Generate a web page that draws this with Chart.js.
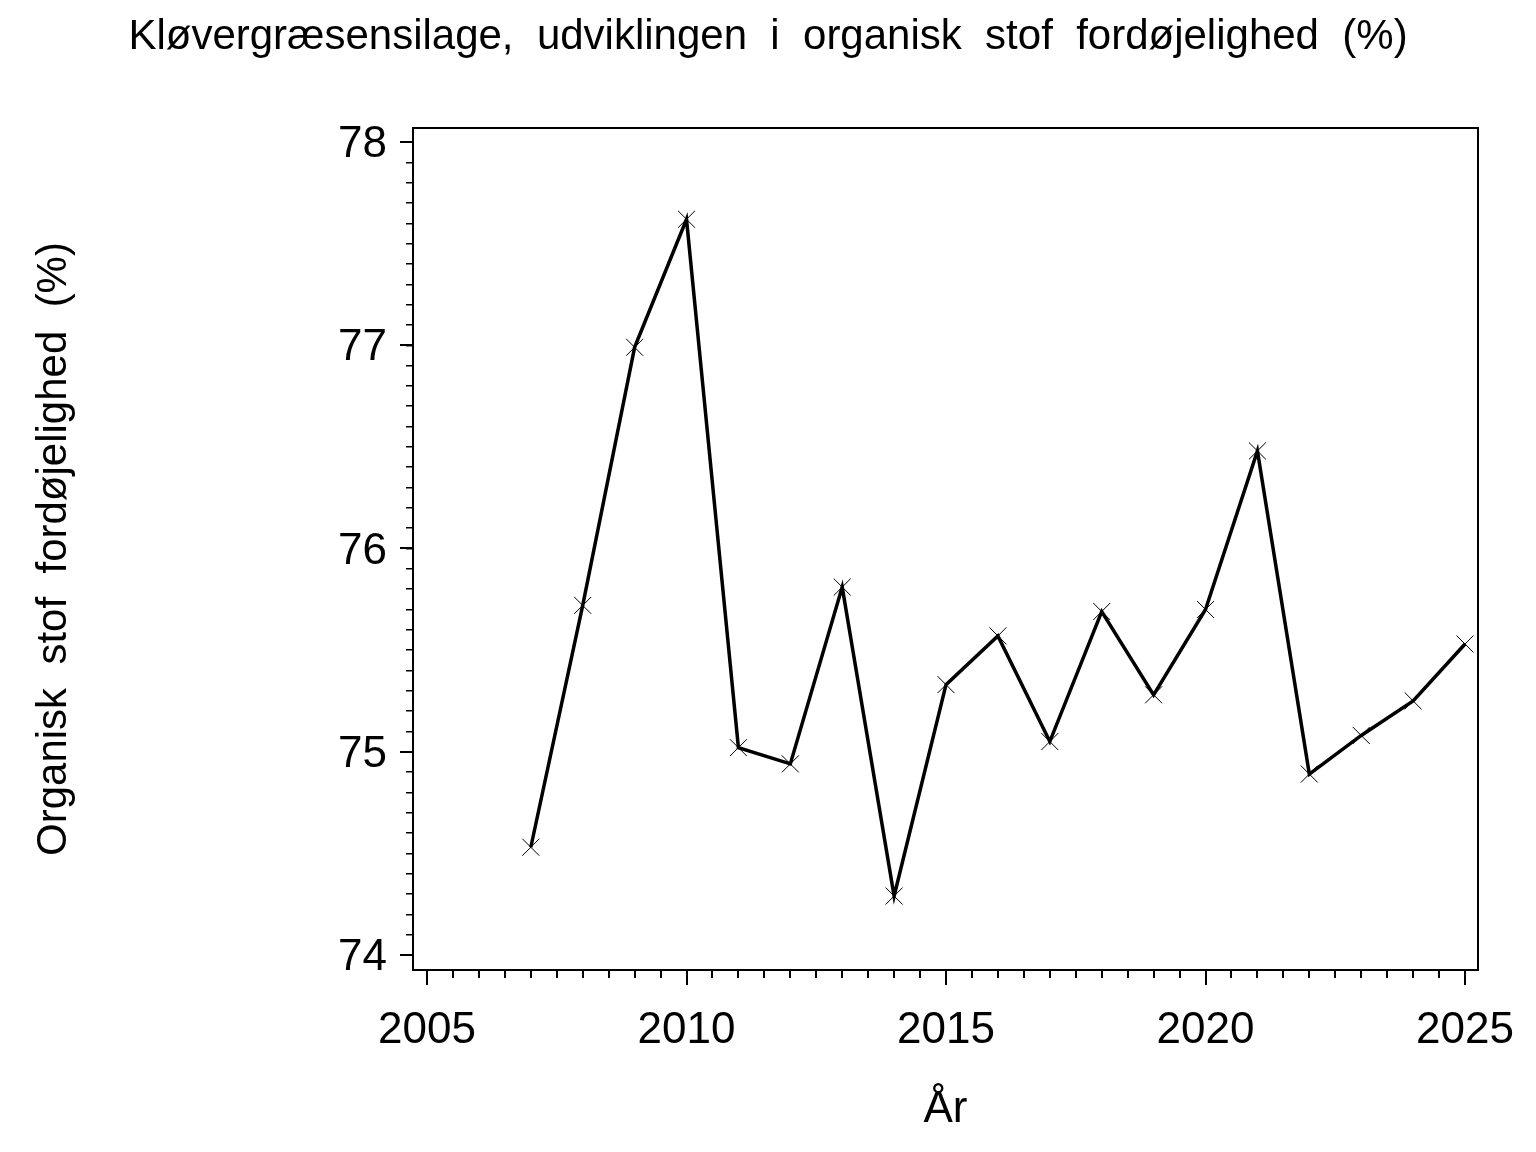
<!DOCTYPE html>
<html>
<head>
<meta charset="utf-8">
<script src="https://cdn.jsdelivr.net/npm/chart.js@4/dist/chart.umd.min.js"></script>
<style>
  html, body { margin: 0; padding: 0; background: #fff; }
  canvas { display: block; }
</style>
</head>
<body>
<canvas id="c" width="1536" height="1152"></canvas>
<script>
// ---- data ----
const years = [2007, 2008, 2009, 2010, 2011, 2012, 2013, 2014, 2015, 2016, 2017, 2018, 2019, 2020, 2021, 2022, 2023, 2024, 2025];
const digestibility = [74.53, 75.72, 76.99, 77.62, 75.02, 74.94, 75.81, 74.29, 75.33, 75.57, 75.05, 75.69, 75.28, 75.70, 76.48, 74.89, 75.08, 75.25, 75.53];
const xMajorTicks = [2005, 2010, 2015, 2020, 2025];
const yMajorTicks = [74, 75, 76, 77, 78];
const titleText = 'Kløvergræsensilage,  udviklingen  i  organisk  stof  fordøjelighed  (%)';
const xTitle = 'År';
const yTitle = 'Organisk  stof  fordøjelighed  (%)';

// minor tick positions (axis decoration only)
const xMinorTicks = [];
for (let v = 2005; v <= 2025.001; v += 0.5) xMinorTicks.push(Math.round(v * 10) / 10);
const yMinorTicks = [];
for (let v = 74; v <= 78.001; v += 0.1) yMinorTicks.push(Math.round(v * 10) / 10);

const FONT = "'Liberation Sans', Arial, sans-serif";
const X_MIN = 2004.73, X_MAX = 2025.25, Y_MIN = 73.926, Y_MAX = 78.069;

const points = years.map((y, i) => ({ x: y, y: digestibility[i] }));

new Chart(document.getElementById('c'), {
  type: 'line',
  data: {
    datasets: [{
      data: points,
      borderColor: '#000',
      backgroundColor: '#000',
      borderWidth: 3.5,
      tension: 0,
      pointStyle: 'crossRot',
      pointRadius: 12,
      pointBorderWidth: 1,
      pointBorderColor: '#000',
      xAxisID: 'x',
      yAxisID: 'y'
    }]
  },
  options: {
    responsive: false,
    animation: false,
    layout: { padding: { left: 58, right: 58, top: 0, bottom: 0 } },
    plugins: {
      legend: { display: false },
      tooltip: { enabled: false },
      title: {
        display: true,
        text: titleText,
        color: '#000',
        font: { family: FONT, size: 42, weight: 'normal', lineHeight: 1.2 },
        padding: { top: 12, bottom: 65.6 }
      }
    },
    scales: {
      x: {
        type: 'linear', position: 'bottom', weight: 1,
        min: X_MIN, max: X_MAX,
        afterBuildTicks: s => { s.ticks = xMajorTicks.map(v => ({ value: v })); },
        afterFit: s => { s.height = 182; },
        grid: { drawOnChartArea: false, tickLength: 15, color: '#000', lineWidth: 2 },
        border: { display: true, color: '#000', width: 2 },
        ticks: { color: '#000', font: { family: FONT, size: 44 }, padding: 19, maxRotation: 0, autoSkip: false,
                 callback: v => String(v) },
        title: { display: true, text: xTitle, color: '#000', font: { family: FONT, size: 44, lineHeight: 1.2 },
                 padding: { top: 0, bottom: 16 } }
      },
      xMinor: {
        type: 'linear', position: 'bottom', weight: 0,
        min: X_MIN, max: X_MAX,
        afterBuildTicks: s => { s.ticks = xMinorTicks.map(v => ({ value: v })); },
        afterFit: s => { s.height = 0; },
        grid: { drawOnChartArea: false, tickLength: 8, color: '#000', lineWidth: 2 },
        border: { display: false },
        ticks: { display: false }
      },
      xTop: {
        type: 'linear', position: 'top',
        min: X_MIN, max: X_MAX,
        afterFit: s => { s.height = 0; },
        grid: { drawOnChartArea: false, drawTicks: false },
        border: { display: true, color: '#000', width: 2 },
        ticks: { display: false }
      },
      y: {
        type: 'linear', position: 'left', weight: 1,
        min: Y_MIN, max: Y_MAX,
        afterBuildTicks: s => { s.ticks = yMajorTicks.map(v => ({ value: v })); },
        afterFit: s => { s.width = 355; },
        grid: { drawOnChartArea: false, tickLength: 13, color: '#000', lineWidth: 2 },
        border: { display: true, color: '#000', width: 2 },
        ticks: { color: '#000', font: { family: FONT, size: 44 }, padding: 13, autoSkip: false, labelOffset: 3,
                 callback: v => String(v) },
        title: { display: true, text: yTitle, color: '#000', font: { family: FONT, size: 42, lineHeight: 1.2 },
                 padding: { top: -29, bottom: 0 } }
      },
      yMinor: {
        type: 'linear', position: 'left', weight: 0,
        min: Y_MIN, max: Y_MAX,
        afterBuildTicks: s => { s.ticks = yMinorTicks.map(v => ({ value: v })); },
        afterFit: s => { s.width = 0; },
        grid: { drawOnChartArea: false, tickLength: 7, color: '#000', lineWidth: 1.5 },
        border: { display: false },
        ticks: { display: false }
      },
      yRight: {
        type: 'linear', position: 'right',
        min: Y_MIN, max: Y_MAX,
        afterFit: s => { s.width = 0; },
        grid: { drawOnChartArea: false, drawTicks: false },
        border: { display: true, color: '#000', width: 2 },
        ticks: { display: false }
      }
    }
  }
});
</script>
</body>
</html>
